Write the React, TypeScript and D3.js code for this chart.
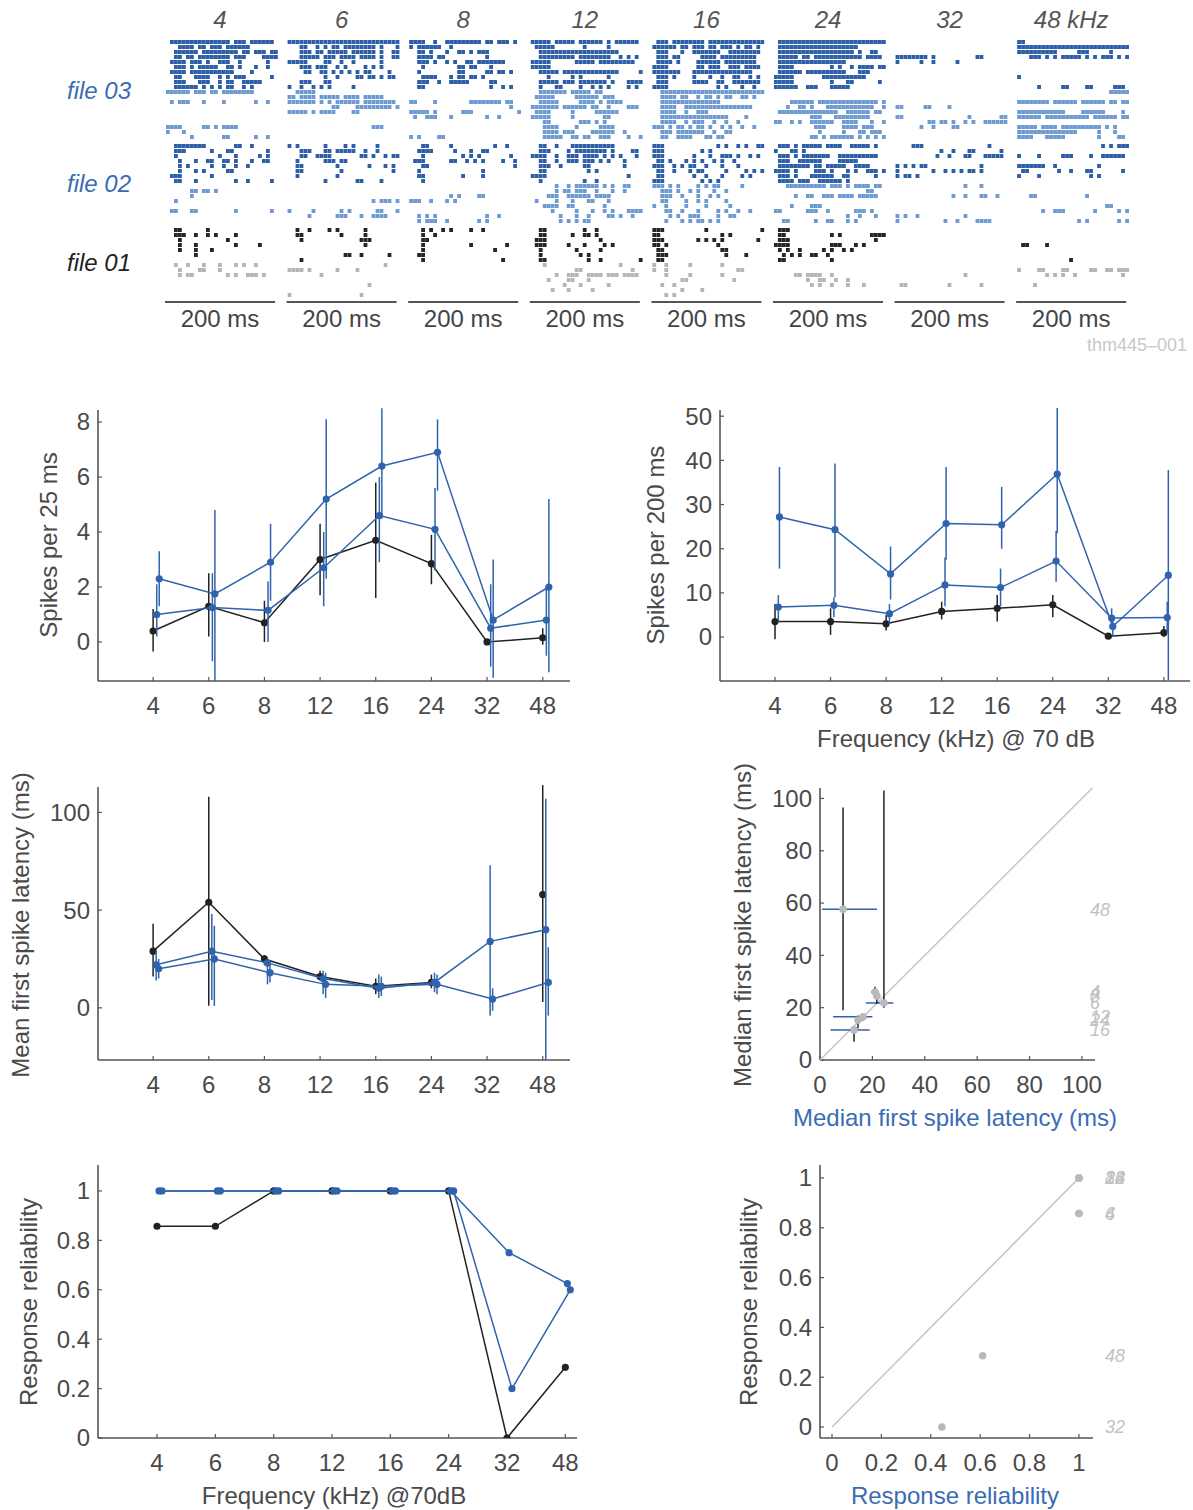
import React from 'react';
import * as d3 from 'd3';

// ---------------- data ----------------
const FREQS = ['4', '6', '8', '12', '16', '24', '32', '48'];
const RASTER_TITLES = ['4', '6', '8', '12', '16', '24', '32', '48 kHz'];
const FILE_LABELS = ['file 03', 'file 02', 'file 01'];
const SCALE_BAR_LABEL = '200 ms';
const CELL_ID = 'thm445\u2013001';

// raster rows: '#' = spike in a 4-px time bin; groups: f03 dark(10), f03 light(10), f02 dark(8), f02 light(8), f01 black(7), f01 gray(7)
const RASTER_4 = [
  ['.###############.###.######', '...####.##.###.######', '..######.#########.##.###.##', '..##.##.########.###....####', '.####.###.#..###..#......#', '..###.#.#####..##.#...#..#', '.####.###########....#', '..##...####..#.#.###......#', '..###...###..#.##..#####', '..######.#.#.#.##..#.#'],
  ['######.###.##.########', '', '.#.###...#....#.......#..#', '', '', '', '', '####.....##.#.####', '#...#', '......#.......##......#..#'],
  ['..########.......##..#', '..###......#...##........#', '..#..........#...#.....#.#', '...#...#..##..##.#...#..##', '...#.#.....#..#..#..#', '...#...#.#.....##', '.###.......#', '..##...#.........#..#.....#'],
  ['', '......##.##.#', '......#', '..#', '', '.##...##.........#........#', '', ''],
  ['..##......#', '..###..#..#.#....#', '...#...........#', '...#...#.........#.....#', '...#...#...#', '.......#', ''],
  ['..#..#...#...#...#.#..#', '...#....##...#', '...#.##........#.#..###.#', '', '', '', ''],
];
const RASTER_6 = [
  ['############################', '...##..#.#.##.########.#...#', '...###.##.#####.######.#..##', '...#####.###.####.####.#..##', '#####....##..#..#......#', '...###.###..#.#....#.#.#', '....##..##.#.#.#.#.##....#', '.........#..#....##.##.#.##', '...###...##', '#..#..#.#.#.....#'],
  ['..#####', '##.####.#####.####.#####', '#######.#.#.######.########', '...........##....#########.#', '#####.#.####....##', '', '', '.....................###', '', ''],
  ['#.#......#....#.#.....#', '...###...##.#####..#..#', '...##..####.......##.#..#.##', '..#......###.##', '..##........#.......#...#.#', '..##.........#............#', '..#.........#', '.........#.......##....#'],
  ['', '', '', '.....................#.###.#', '', '#.....#......#.#......##...#', '.....#......###...#..####', ''],
  ['..#..#....#.#......#', '..##.........#.....#', '...#..............###', '...................#', '', '..............##..#......#', '...#'],
  ['........................#', '####.#......#....#', '........#', '', '....................#', '', '#.................#'],
];
const RASTER_8 = [
  ['####..#..#########.##.###.#', '#.######..#', '..##.#...#..##.#.###', '..####.##..........#', '..###.#..#.#..##.#######', '...#........##.##...#', '..#.........##.....##.##.#', '...####...#.##.##.#', '..###..#..#####.....##', '..##................#..#.#'],
  ['', '', '##....#........########.##', '.........................#', '#####.#......###...........#', '.#..###...#........#..#', '', '', '', '#.#....##'],
  ['...##.....#..........#..#', '..####.....#...#..##', '...#.........#.#.#.......#', '.###......##..#.#.#....#..#', '...##.....................#', '..#...............#', '..##.........#....#', '...#'],
  ['', '', '..........#.#....##', '###..#...#.#', '', '', '..#.#.#............#..#', '..#.###..#.......#.#'],
  ['...#.#..#.#....#..#', '...#..#', '...##', '...#...........#........#', '...#.................#', '..##', '...#...................#'],
  ['', '', '', '', '', '', ''],
];
const RASTER_12 = [
  ['#####.#####.######.#.######.', '.#####.......#.....#', '..####################', '..#########.########..#.#.#', '#####......#####.#########', '#####', '..#####.##############.....#', '....#.....#.#......#', '..#####.###.#######.#...####', '..#...##....#..#.#.#....#.#'],
  ['..#######.#####.##', '.#####.....######.###', '..#####.....####.#.####', '#######.######.##..#....###', '.####.....#.....######', '#####.....#.......##', '...##.......###.#.#', '...####....#.....####', '...####.###....######..#', '...#####..##.##..###....#..#'],
  ['..##..#...###########', '..###....#.########.#....##', '####..#..###.####.#.#.#...#', '..##..#..###.###.#.#...#', '..###..#.....##........#', '..##..........#.#', '####....................#', '..#..........#..#'],
  ['......#..#.######.#.#..##', '......#.##.###..#...#..#', '....###..######.####', '.#....#...#...##...#', '...####..##.......#', '.....#.....#...#..#.#...####', '.......#...#..#....##.#..#', '.......#.#.#.##'],
  ['..##.........#..#', '..##......#..##.#', '.###.............#', '.###.....#...#....#.#', '..#........#.....#', '..#.........#.#', '..##..........#..#.........#'],
  ['...#..................#', '...........##............#', '......#..###..####.###.####', '....#....##...#', '........#...#......#', '.....#...#.....#', ''],
];
const RASTER_16 = [
  ['.###.########.##############', '######.##.###.##.###.#.##.#', '.###...#..#######..########', '.###.##.....####.#########', '.####.#....######.########', '####.......##.###..###.####', '#######...###############', '.###.#....#...#..#..##..#.#', '.###......####..##..#######', '####............#.#...#..#'],
  ['..##########################', '..####.##..#.##.#.##..##.#', '..###############', '..####..#################', '..####..#..###', '..#################....#', '..####..#.###..#..#..#', '###.#.##.#.##.#..#.#..#..#', '..###.#######..#..##', '..##..####...##.##'],
  ['###.............#.#..#.#..##', '###.........#.#', '###.......#...#..###.#..#.#', '.##.#...#.#.#..#.#..#', '###..#.#.##..#...#...#', '.##..#...#.##.....#....#.#.#', '.##.......#..#...#....#.#', '###.........#.#.#'],
  ['###.#.#....#.#.##.....#', '..###.#..#.#...#..#', '..###..#...#..#.#', '..##....#..#.#....#', '#..#....#....#.....#', '...##..#...#....#.#..#..#', '....#.#..###....#..##', '...#...#.#.##.#.#'],
  ['###..........#.............#', '##...............#.#', '###........#.#.#.#........#', '##.#............#', '.##..............##', '.###..............#....#', '.##'],
  ['#..#.....#.......#', '#..#.................##', '...#.....#.......#', '.......##...........#', '..#..#', '.......#....#', '...#.#'],
];
const RASTER_24 = [
  ['.###########################', '.####################', '.###################.#..##', '.#####.##.############.####', '.#################', '.####.........#.#..#.####.##', '.######.##########...###', '#####.......###########', '#####.........#...##......#', '######..###...#####'],
  ['', '', '....######.###############.#', '...#..##.#...############..#', '.###############..######.##', '.........###...#########', '##..#.#..######..####...#..#', '..........###....####.###', '...........#.....#...##.###', '.........##.#.######.#.#.#.#'],
  ['.###.#.#####.####..#####.#', '#...##.#', '.###.#.#######..##########', '.###..######....#####', '.########.##.#####..####', '####.#....###.#...#.#..###.#', '.###.#...######..##......#', '.####.###..######.#'],
  ['...##########.###.#.####.##', '.......................##', '.....#..##..###.####.#####', '', '....#....###', '##......###..#......###.#', '..................#..#...#', '..##......#..##...#.#'],
  ['.###', '.##...........#.#.......####', '.###.....................#', '####..........###...#.#', '.#.#..#.....#.#..#.#', '..#.#.#..##..#', '.##...........#'],
  ['', '', '.....##.####..#', '........#..##..#..#', '.........#.#..#...#...#', '', ''],
];
const RASTER_32 = [
  ['', '', '', '########.#..........##', '#.....#..#.....#', '', '', '', '', ''],
  ['', '', '', '##.....##....#', '', '##................#.......##', '........##.##.#..#.#..######', '......#..#....##', '', ''],
  ['....###................#', '...........#..#...##......#', '..........#..#...##...#####', '', '#.#.#.##.............#', '#........#..#.#.#.##.#', '#.##.#', ''],
  ['.................#...#', '', '..............#..#...##..#', '', '', '', '#.#..#...........#', '#...........#..#....####'],
  ['', '', '', '', '', '', ''],
  ['', '', '.................#', '', '.##..........#.......#', '', ''],
];
const RASTER_48 = [
  ['##', '############################', '##########.....###.....#', '...###.#.#.#####.#.#.###.#.#', '', '', '', '#', '', '.....#.....##....##.....###'],
  ['.......................#####', '', '########.######.######.##.##', '', '############....######....#', '######.###########.######.##', '', '#####.####.##########.#.#', '###############.....#...#', '####...#####........#....##'],
  ['.....................#.#.###', '', '#....#.....###....#..######', '', '#######..#..........#', '.##.......#..#...##.......#', '#....#............#.#', ''],
  ['', '', '...##............#', '', '......................##', '......#..###.......#.....#.#', '', '...............#.#.......#.#'],
  ['', '', '', '.##....#', '', '', '.............#'],
  ['', '#....##....##.....##..##.###', '.......#.#.#..#...........#', '', '....#', '', ''],
];
const RASTERS = [RASTER_4, RASTER_6, RASTER_8, RASTER_12, RASTER_16, RASTER_24, RASTER_32, RASTER_48];

// Spikes per 25 ms
const s25Black = [0.4, 1.3, 0.7, 3.0, 3.7, 2.85, 0.0, 0.15];
const s25BlackLo = [-0.35, 0.2, 0.0, 1.7, 1.6, 2.1, 0.0, -0.1];
const s25BlackHi = [1.2, 2.5, 1.5, 4.3, 5.8, 3.9, 0.0, 0.5];
const s25BlueA = [2.3, 1.75, 2.9, 5.2, 6.4, 6.9, 0.8, 2.0];
const s25BlueALo = [1.3, -1.5, 1.5, 2.3, 4.5, 5.5, -1.3, -1.1];
const s25BlueAHi = [3.3, 4.8, 4.3, 8.1, 8.5, 8.1, 3.0, 5.2];
const s25BlueB = [1.0, 1.25, 1.15, 2.7, 4.6, 4.1, 0.5, 0.8];
const s25BlueBLo = [0.2, -0.7, 0.0, 1.3, 2.9, 2.6, -0.9, -0.5];
const s25BlueBHi = [2.1, 2.5, 2.2, 4.0, 6.0, 5.6, 2.1, 2.0];

// Spikes per 200 ms
const s200Black = [3.5, 3.5, 3.0, 5.8, 6.5, 7.3, 0.2, 1.0];
const s200BlackLo = [-0.5, 0.5, 1.5, 4.0, 3.5, 4.5, 0.2, 0.0];
const s200BlackHi = [7.5, 6.5, 5.0, 8.0, 9.5, 9.5, 0.2, 2.5];
const s200BlueA = [27.2, 24.3, 14.3, 25.7, 25.4, 36.9, 2.4, 14.0];
const s200BlueALo = [15.5, 9.0, 8.5, 17.5, 20.0, 23.5, 0.0, -9.8];
const s200BlueAHi = [38.5, 39.3, 20.5, 38.5, 34.0, 52.0, 5.0, 37.8];
const s200BlueB = [6.8, 7.2, 5.3, 11.8, 11.2, 17.2, 4.3, 4.4];
const s200BlueBLo = [3.5, 4.5, 3.0, 7.0, 7.0, 12.5, 2.0, 1.0];
const s200BlueBHi = [9.5, 9.0, 7.5, 18.0, 15.5, 24.0, 6.5, 8.0];

// Mean first spike latency (ms)
const latBlack = [29, 54, 25, 16, 11, 13, NaN, 58];
const latBlackLo = [16, 1, 22, 14, 7, 10, NaN, 3];
const latBlackHi = [43, 108, 27, 19, 15, 17, NaN, 115];
const latBlueA = [22, 29, 23, 15, 10, 13, 34, 40];
const latBlueALo = [14, 4, 12, 7, 5, 8, -4, -27];
const latBlueAHi = [29, 48, 25, 19, 17, 18, 73, 107];
const latBlueB = [20, 25, 18, 12, 11, 12, 4.5, 13];
const latBlueBLo = [15, 1, 13, 5, 6, 7, -1.5, -4];
const latBlueBHi = [25, 42, 24, 18, 16, 17, 10, 31];

// Median first spike latency scatter (x = blue files, y = black file)
const medX = [21.0, 24.4, 21.7, 16.4, 13.0, 14.5, NaN, 8.8];
const medXLo = [19.5, 17.5, 20.5, 5.0, 4.0, 13.5, NaN, 0.8];
const medXHi = [22.5, 28.0, 23.0, 20.0, 19.0, 16.0, NaN, 21.8];
const medY = [26.0, 21.8, 24.5, 16.5, 11.5, 15.3, NaN, 57.6];
const medYLo = [24, 20, 21.5, 15, 7, 12, NaN, 19];
const medYHi = [28, 103, 27, 17.5, 11.5, 17, NaN, 96.5];

// Response reliability
const relBlack = [0.857, 0.857, 1, 1, 1, 1, 0, 0.286];
const relBlueA = [1, 1, 1, 1, 1, 1, 0.75, 0.625];
const relBlueB = [1, 1, 1, 1, 1, 1, 0.2, 0.6];
const relScatterX = [1, 1, 1, 1, 1, 1, 0.445, 0.61];
const relScatterY = [0.857, 0.857, 1, 1, 1, 1, 0, 0.286];

const TICKS_A = [0, 2, 4, 6, 8];
const TICKS_B = [0, 10, 20, 30, 40, 50];
const TICKS_C = [0, 50, 100];
const TICKS_D = [0, 20, 40, 60, 80, 100];
const TICKS_REL = [0, 0.2, 0.4, 0.6, 0.8, 1];

// ---------------- style ----------------
const FONT = '"Liberation Sans", Arial, Helvetica, sans-serif';
const DARK_BLUE = '#2d5ea9';
const LIGHT_BLUE = '#6e9ad4';
const RASTER_BLACK = '#262626';
const RASTER_GRAY = '#b5b5b5';
const LINE_BLUE = '#3063ad';
const LINE_BLACK = '#222222';
const AXIS = '#555555';
const TXT = '#4a4a4a';
const LABEL_BLUE = '#3a6cb5';
const FAINT = '#c2c2c2';
const FS = 24;

const GROUP_TOPS = [42, 92, 146, 186, 230, 265];
const GROUP_COLORS = [DARK_BLUE, LIGHT_BLUE, DARK_BLUE, LIGHT_BLUE, RASTER_BLACK, RASTER_GRAY];
const ROW_STEP = 5;

function Raster() {
  const band = d3.scaleBand<string>().domain(FREQS).range([165, 1126.2]).paddingInner(0.095).paddingOuter(0);
  const bw = band.bandwidth();
  return (
    <g>
      {FREQS.map((f, i) => {
        const x0 = band(f) as number;
        const xb = d3.scaleLinear().domain([0, 28]).range([x0 + 1, x0 + 113]);
        const groups = RASTERS[i];
        return (
          <g key={f}>
            <text x={x0 + bw / 2} y={28} textAnchor="middle" fontSize={FS} fontStyle="italic" fill="#555">{RASTER_TITLES[i]}</text>
            {groups.map((rows, g) => rows.map((row, k) => {
              const y = GROUP_TOPS[g] + k * ROW_STEP;
              const rects: any[] = [];
              for (let b = 0; b < row.length; b++) {
                if (row[b] === '#') {
                  rects.push(<rect key={b} x={xb(b)} y={y - 2} width={3.8} height={4} fill={GROUP_COLORS[g]} />);
                }
              }
              return <g key={g + '-' + k}>{rects}</g>;
            }))}
            <line x1={x0} x2={x0 + bw} y1={302} y2={302} stroke="#555" strokeWidth={1.8} />
            <text x={x0 + bw / 2} y={327} textAnchor="middle" fontSize={FS} fill="#444">{SCALE_BAR_LABEL}</text>
          </g>
        );
      })}
      <text x={67} y={98.5} fontSize={FS} fontStyle="italic" fill={LABEL_BLUE}>{FILE_LABELS[0]}</text>
      <text x={67} y={192} fontSize={FS} fontStyle="italic" fill={LABEL_BLUE}>{FILE_LABELS[1]}</text>
      <text x={67} y={271} fontSize={FS} fontStyle="italic" fill="#222">{FILE_LABELS[2]}</text>
      <text x={1187} y={351} fontSize={18} textAnchor="end" fill="#c8c8c8">{CELL_ID}</text>
    </g>
  );
}

type Series = { values: number[]; lo?: number[]; hi?: number[]; color: string; dx: number };

function Axes({ x, y, left, right, top, bottom, xTicks, xLabels, yTicks, yLabels }: any) {
  return (
    <g>
      <line x1={left} x2={left} y1={top} y2={bottom} stroke={AXIS} strokeWidth={1.6} />
      <line x1={left} x2={right} y1={bottom} y2={bottom} stroke={AXIS} strokeWidth={1.6} />
      {yTicks.map((t: number, i: number) => (
        <g key={'y' + i}>
          <line x1={left} x2={left + 4} y1={y(t)} y2={y(t)} stroke={AXIS} strokeWidth={1.2} />
          <text x={left - 8} y={y(t)} dy="0.35em" textAnchor="end" fontSize={FS} fill={TXT}>{yLabels[i]}</text>
        </g>
      ))}
      {xTicks.map((t: number, i: number) => (
        <g key={'x' + i}>
          <line x1={x(t)} x2={x(t)} y1={bottom} y2={bottom - 4} stroke={AXIS} strokeWidth={1.2} />
          <text x={x(t)} y={bottom + 33} textAnchor="middle" fontSize={FS} fill={TXT}>{xLabels[i]}</text>
        </g>
      ))}
    </g>
  );
}

function YTitle({ x, y, text, color }: any) {
  return <text x={x} y={y} transform={`rotate(-90, ${x}, ${y})`} textAnchor="middle" fontSize={FS} fill={color || TXT}>{text}</text>;
}

function LinePanel({ id, box, xDomain, yDomain, yTicks, series, yTitle, yTitlePos, xTitle, xTitlePos }: any) {
  const [left, top, right, bottom] = box;
  const x = d3.scaleLinear().domain(xDomain).range([left, right]);
  const y = d3.scaleLinear().domain(yDomain).range([bottom, top]);
  const idx = FREQS.map((_, i) => i);
  return (
    <g>
      <defs>
        <clipPath id={id}><rect x={left} y={top - 2} width={right - left} height={bottom - top + 2} /></clipPath>
      </defs>
      <Axes x={x} y={y} left={left} right={right} top={top} bottom={bottom}
        xTicks={idx} xLabels={FREQS} yTicks={yTicks} yLabels={yTicks.map((t: number) => String(t))} />
      <g clipPath={`url(#${id})`}>
        {(series as Series[]).map((s, si) => {
          const line = d3.line<number>()
            .defined((v) => !isNaN(v))
            .x((_, i) => x(i + s.dx))
            .y((v) => y(v));
          return (
            <g key={si}>
              <path d={line(s.values) || ''} fill="none" stroke={s.color} strokeWidth={1.5} />
              {s.lo && s.hi && s.values.map((v, i) => isNaN(v) ? null : (
                <line key={'e' + i} x1={x(i + s.dx)} x2={x(i + s.dx)} y1={y(s.lo![i])} y2={y(s.hi![i])} stroke={s.color} strokeWidth={1.5} />
              ))}
              {s.values.map((v, i) => isNaN(v) ? null : (
                <circle key={'c' + i} cx={x(i + s.dx)} cy={y(v)} r={3.6} fill={s.color} />
              ))}
            </g>
          );
        })}
      </g>
      <YTitle x={yTitlePos[0]} y={yTitlePos[1]} text={yTitle} />
      {xTitle && <text x={xTitlePos[0]} y={xTitlePos[1]} textAnchor="middle" fontSize={FS} fill={TXT}>{xTitle}</text>}
    </g>
  );
}

function LatencyScatter() {
  const left = 820, right = 1095, top = 788, bottom = 1060;
  const x = d3.scaleLinear().domain([0, 105]).range([left, right]);
  const y = d3.scaleLinear().domain([0, 104]).range([bottom, top]);
  const idx = FREQS.map((_, i) => i).filter((i) => !isNaN(medX[i]));
  return (
    <g>
      <Axes x={x} y={y} left={left} right={right} top={top} bottom={bottom}
        xTicks={TICKS_D} xLabels={TICKS_D.map(String)} yTicks={TICKS_D} yLabels={TICKS_D.map(String)} />
      <line x1={x(0)} y1={y(0)} x2={x(104)} y2={y(104)} stroke="#c4c4c4" strokeWidth={1.5} />
      {idx.map((i) => (
        <g key={'e' + i}>
          <line x1={x(medX[i])} x2={x(medX[i])} y1={y(medYLo[i])} y2={y(medYHi[i])} stroke={LINE_BLACK} strokeWidth={1.5} />
          <line x1={x(medXLo[i])} x2={x(medXHi[i])} y1={y(medY[i])} y2={y(medY[i])} stroke={LINE_BLUE} strokeWidth={1.5} />
        </g>
      ))}
      {idx.map((i) => (
        <circle key={'c' + i} cx={x(medX[i])} cy={y(medY[i])} r={3.8} fill="#b9b9b9" />
      ))}
      {idx.map((i) => (
        <text key={'t' + i} x={1090} y={y(medY[i])} dy="0.35em" fontSize={18} fontStyle="italic" fill={FAINT}>{FREQS[i]}</text>
      ))}
      <YTitle x={751} y={925} text="Median first spike latency (ms)" />
      <text x={955} y={1126} textAnchor="middle" fontSize={FS} fill={LABEL_BLUE}>Median first spike latency (ms)</text>
    </g>
  );
}

function ReliabilityScatter() {
  const left = 820, right = 1093, top = 1165, bottom = 1438;
  const x = d3.scaleLinear().domain([-0.0486, 1.057]).range([left, right]);
  const y = d3.scaleLinear().domain([-0.044, 1.052]).range([bottom, top]);
  const lbl = TICKS_REL.map((t) => String(t));
  return (
    <g>
      <Axes x={x} y={y} left={left} right={right} top={top} bottom={bottom}
        xTicks={TICKS_REL} xLabels={lbl} yTicks={TICKS_REL} yLabels={lbl} />
      <line x1={x(0)} y1={y(0)} x2={x(1)} y2={y(1)} stroke="#c4c4c4" strokeWidth={1.5} />
      {relScatterX.map((v, i) => (
        <circle key={'c' + i} cx={x(v)} cy={y(relScatterY[i])} r={3.8} fill="#b9b9b9" />
      ))}
      {relScatterX.map((v, i) => (
        <text key={'t' + i} x={1105} y={y(relScatterY[i])} dy="0.35em" fontSize={18} fontStyle="italic" fill={FAINT}>{FREQS[i]}</text>
      ))}
      <YTitle x={757} y={1302} text="Response reliability" />
      <text x={955} y={1504} textAnchor="middle" fontSize={FS} fill={LABEL_BLUE}>Response reliability</text>
    </g>
  );
}

export default function App() {
  const seriesA: Series[] = [
    { values: s25Black, lo: s25BlackLo, hi: s25BlackHi, color: LINE_BLACK, dx: 0 },
    { values: s25BlueB, lo: s25BlueBLo, hi: s25BlueBHi, color: LINE_BLUE, dx: 0.065 },
    { values: s25BlueA, lo: s25BlueALo, hi: s25BlueAHi, color: LINE_BLUE, dx: 0.11 },
  ];
  const seriesB: Series[] = [
    { values: s200Black, lo: s200BlackLo, hi: s200BlackHi, color: LINE_BLACK, dx: 0 },
    { values: s200BlueB, lo: s200BlueBLo, hi: s200BlueBHi, color: LINE_BLUE, dx: 0.06 },
    { values: s200BlueA, lo: s200BlueALo, hi: s200BlueAHi, color: LINE_BLUE, dx: 0.08 },
  ];
  const seriesC: Series[] = [
    { values: latBlack, lo: latBlackLo, hi: latBlackHi, color: LINE_BLACK, dx: 0 },
    { values: latBlueA, lo: latBlueALo, hi: latBlueAHi, color: LINE_BLUE, dx: 0.055 },
    { values: latBlueB, lo: latBlueBLo, hi: latBlueBHi, color: LINE_BLUE, dx: 0.1 },
  ];
  const seriesE: Series[] = [
    { values: relBlack, color: LINE_BLACK, dx: 0 },
    { values: relBlueA, color: LINE_BLUE, dx: 0.035 },
    { values: relBlueB, color: LINE_BLUE, dx: 0.085 },
  ];
  return (
    <svg width={1193} height={1510} style={{ position: 'absolute', left: 0, top: 0, background: '#fff' }} fontFamily={FONT}>
      <rect x={0} y={0} width={1193} height={1510} fill="#fff" />
      <Raster />
      <LinePanel id="clipA" box={[98, 410, 570, 681]} xDomain={[-0.99, 7.49]} yDomain={[-1.42, 8.44]} yTicks={TICKS_A}
        series={seriesA} yTitle="Spikes per 25 ms" yTitlePos={[57, 545]} />
      <LinePanel id="clipB" box={[720, 410, 1190, 681]} xDomain={[-0.99, 7.47]} yDomain={[-9.95, 51.4]} yTicks={TICKS_B}
        series={seriesB} yTitle="Spikes per 200 ms" yTitlePos={[664, 545]} xTitle="Frequency (kHz) @ 70 dB" xTitlePos={[956, 747]} />
      <LinePanel id="clipC" box={[98, 787, 570, 1060]} xDomain={[-0.99, 7.49]} yDomain={[-26.7, 113]} yTicks={TICKS_C}
        series={seriesC} yTitle="Mean first spike latency (ms)" yTitlePos={[29, 925]} />
      <LatencyScatter />
      <LinePanel id="clipE" box={[98, 1165, 577, 1438]} xDomain={[-1.012, 7.2]} yDomain={[0, 1.105]} yTicks={TICKS_REL}
        series={seriesE} yTitle="Response reliability" yTitlePos={[37, 1302]} xTitle="Frequency (kHz) @70dB" xTitlePos={[334, 1504]} />
      <ReliabilityScatter />
    </svg>
  );
}
